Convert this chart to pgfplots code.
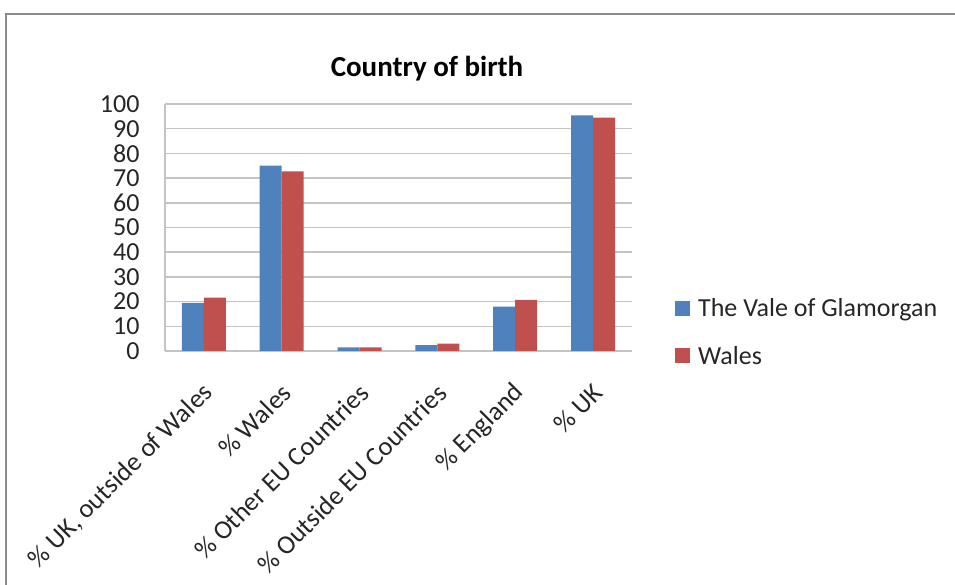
\documentclass[border=0pt]{standalone}
\usepackage{fontspec}
\setmainfont{Carlito}
\usepackage{pgfplots}
\pgfplotsset{compat=1.18}
\definecolor{vblue}{HTML}{4F81BD}
\definecolor{wred}{HTML}{C0504D}
\definecolor{gridc}{HTML}{C4C4C4}
\definecolor{framec}{HTML}{8A8A8A}
\begin{document}
\begin{tikzpicture}
\useasboundingbox (0,0) rectangle (955pt,585pt);
\draw[color=framec, line width=2pt] (6pt,0pt) -- (6pt,571pt) -- (955pt,571pt);
\node[font=\fontsize{29}{29}\selectfont\bfseries] at (427pt,516pt) {Country of birth};
\begin{axis}[
  at={(165pt,234pt)}, anchor=south west,
  scale only axis, width=467pt, height=247pt,
  ybar=0pt, bar width=22pt,
  ymin=0, ymax=100, ytick={0,10,...,100},
  xmin=-0.5, xmax=5.5, xtick={0,...,5},
  xticklabels={{\% UK, outside of Wales},{\% Wales},{\% Other EU Countries},{\% Outside EU Countries},{\% England},{\% UK}},
  axis x line*=bottom, axis y line*=left,
  axis line style={color=gridc, line width=1.5pt},
  major tick length=0pt,
  ymajorgrids, grid style={color=gridc, line width=1.5pt},
  /pgf/number format/assume math mode=true,
  yticklabel style={font=\fontsize{26}{26}\selectfont, color=black!85, xshift=-22pt},
  xticklabel style={font=\fontsize{26.5}{26.5}\selectfont, color=black!85, rotate=45, anchor=east, xshift=-20pt, yshift=-30pt},
  legend style={at={(axis description cs:1.092,0.075)}, anchor=west, draw=none, fill=none,
    font=\fontsize{26}{26}\selectfont, text=black!85, row sep=24pt, inner sep=0pt,
    /tikz/every odd column/.append style={column sep=6pt}},
  legend cell align=left,
  legend image code/.code={\fill[#1] (0pt,-7pt) rectangle (15pt,8pt);},
]
\addplot[fill=vblue, draw=none] coordinates {(0,19.5) (1,75.0) (2,1.5) (3,2.4) (4,18.0) (5,95.4)};
\addplot[fill=wred, draw=none] coordinates {(0,21.6) (1,72.7) (2,1.5) (3,3.0) (4,20.7) (5,94.5)};
\legend{The Vale of Glamorgan, Wales}
\end{axis}
\end{tikzpicture}
\end{document}
